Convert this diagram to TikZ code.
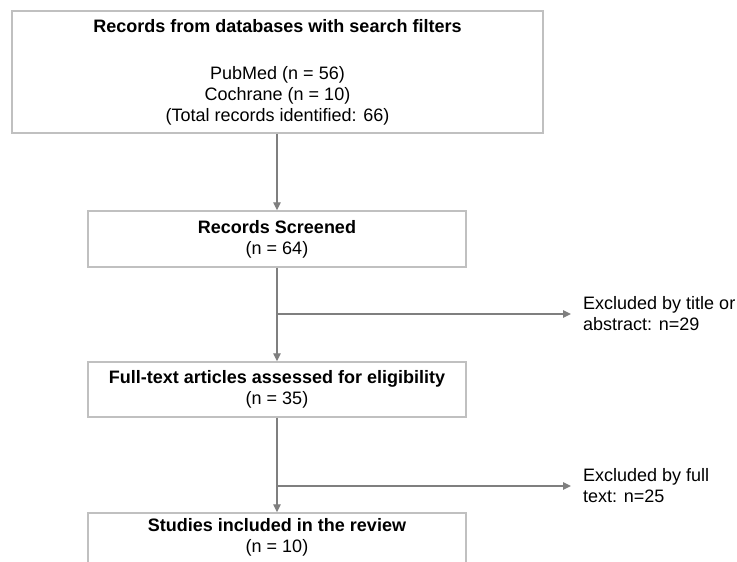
\documentclass[tikz,border=0pt]{standalone}
\usepackage{fontspec}
\setmainfont{Liberation Sans}
\usetikzlibrary{arrows.meta}
\definecolor{boxgray}{HTML}{C0C0C0}
\definecolor{arrgray}{HTML}{7F7F7F}
\begin{document}
\begin{tikzpicture}[x=1pt,y=-1pt,
  every node/.style={font=\fontsize{18}{21}\selectfont, inner sep=0pt},
  box/.style={draw=boxgray, line width=1.4pt, minimum width=378pt, align=center},
  lbl/.style={align=center},
  side/.style={align=left, anchor=west, inner xsep=12pt},
  arr/.style={draw=arrgray, line width=1.3pt, -{Triangle[length=8pt,width=7.5pt]}}]
\useasboundingbox (0,0) rectangle (737,562);
\fill[white] (0,0) rectangle (737,562);
% top box
\node[box, minimum width=531pt, minimum height=122pt] (top) at (277.5,72) {};
\node[lbl, font=\fontsize{18}{21}\selectfont\bfseries] (toptitle) at (277.5,26) {Records from databases with search filters};
\node[lbl] (topn) at (277.5,96) {PubMed (n = 56)\\Cochrane (n = 10)\\(Total records identified: 66)};
% records screened
\node[box, minimum height=56pt] (rs) at (277,239) {\textbf{Records Screened}\\(n = 64)};
% full text
\node[box, minimum height=55pt] (ft) at (277,389.5) {\textbf{Full-text articles assessed for eligibility}\\(n = 35)};
% studies
\begin{scope}
\clip (0,0) rectangle (737,562);
\node[box, minimum height=70pt] (st) at (277,548) {};
\end{scope}
\node[lbl] (sttext) at (277,537) {\textbf{Studies included in the review}\\(n = 10)};
% exclusions
\node[side] (ex1) at (571,314) {Excluded by title or\\abstract: n=29};
\node[side] (ex2) at (571,486) {Excluded by full\\text: n=25};
\coordinate (b1) at (277,314);
\coordinate (b2) at (277,486);
% connectors
\draw[arr] (top.south -| rs.north) -- (rs.north);
\draw[arr] (rs.south) -- (ft.north);
\draw[arr] (ft.south) -- (st.north);
\draw[arr] (b1) -- (ex1.west);
\draw[arr] (b2) -- (ex2.west);
\end{tikzpicture}
\end{document}
